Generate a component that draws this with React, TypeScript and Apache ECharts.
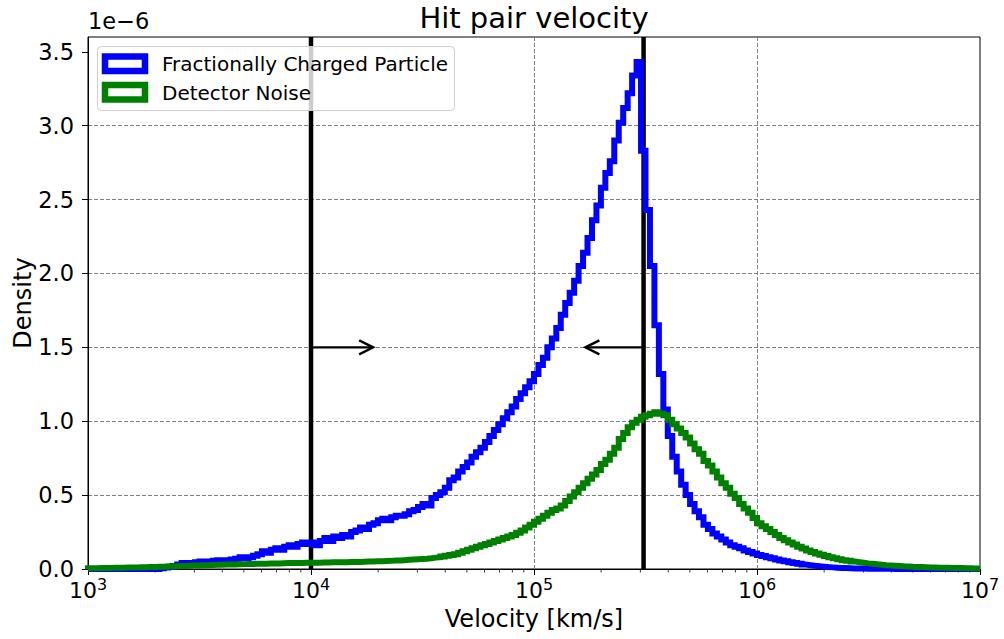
import React, { useEffect, useRef } from 'react';
import * as echarts from 'echarts';

const TITLE = 'Hit pair velocity';
const X_NAME = 'Velocity [km/s]';
const Y_NAME = 'Density';
const Y_OFFSET_TEXT = '1e\u22126';
const SERIES_NAMES = ['Fractionally Charged Particle', 'Detector Noise'];
const SERIES_COLORS = ['#0000ff', '#008000'];

const LOG_MIN = 3;
const LOG_MAX = 7;
const N_BINS = 200;
const X_MIN = 1e3;
const X_MAX = 1e7;
const Y_MIN = 0;
const Y_MAX = 3.6;
const Y_TICKS = [0, 0.5, 1.0, 1.5, 2.0, 2.5, 3.0, 3.5];

// densities in units of 1e-6, one per log-spaced bin
const BLUE = [
  0, 0, 0, 0, 0, 0, 0, 0, 0, 0,
  0, 0, 0, 0, 0, 0, 0.005, 0.01, 0.015, 0.02,
  0.03, 0.04, 0.035, 0.04, 0.045, 0.05, 0.045, 0.05, 0.055, 0.06,
  0.055, 0.06, 0.065, 0.07, 0.08, 0.075, 0.08, 0.09, 0.10, 0.12,
  0.11, 0.13, 0.14, 0.13, 0.15, 0.16, 0.15, 0.17, 0.18, 0.17,
  0.18, 0.16, 0.19, 0.21, 0.19, 0.22, 0.21, 0.23, 0.22, 0.25,
  0.26, 0.28, 0.27, 0.30, 0.31, 0.33, 0.34, 0.33, 0.35, 0.36,
  0.36, 0.37, 0.39, 0.40, 0.42, 0.44, 0.43, 0.48, 0.50, 0.52,
  0.55, 0.60, 0.62, 0.66, 0.69, 0.72, 0.76, 0.79, 0.82, 0.86,
  0.90, 0.94, 0.98, 1.02, 1.06, 1.10, 1.15, 1.19, 1.23, 1.27,
  1.32, 1.38, 1.43, 1.50, 1.56, 1.63, 1.72, 1.80, 1.87, 1.95,
  2.05, 2.14, 2.24, 2.36, 2.46, 2.58, 2.68, 2.76, 2.90, 3.02,
  3.12, 3.22, 3.34, 3.43, 2.83, 2.43, 2.05, 1.65, 1.32, 1.08,
  0.90, 0.76, 0.66, 0.57, 0.50, 0.44, 0.39, 0.35, 0.30, 0.27,
  0.24, 0.22, 0.20, 0.18, 0.16, 0.15, 0.14, 0.125, 0.115, 0.105,
  0.095, 0.088, 0.08, 0.072, 0.065, 0.058, 0.052, 0.046, 0.04, 0.035,
  0.03, 0.026, 0.022, 0.019, 0.016, 0.013, 0.011, 0.009, 0.007, 0.006,
  0.005, 0.004, 0.003, 0.003, 0.002, 0.002, 0.001, 0.001, 0.001, 0.001,
  0, 0, 0, 0, 0, 0, 0, 0, 0, 0,
  0, 0, 0, 0, 0, 0, 0, 0, 0, 0,
];

const GREEN = [
  0.005, 0.005, 0.006, 0.006, 0.007, 0.008, 0.008, 0.009, 0.01, 0.01,
  0.011, 0.012, 0.012, 0.013, 0.014, 0.015, 0.016, 0.017, 0.018, 0.019,
  0.02, 0.021, 0.022, 0.023, 0.024, 0.025, 0.026, 0.027, 0.028, 0.029,
  0.03, 0.031, 0.031, 0.032, 0.033, 0.034, 0.034, 0.035, 0.036, 0.036,
  0.037, 0.038, 0.038, 0.039, 0.04, 0.04, 0.041, 0.041, 0.042, 0.042,
  0.043, 0.043, 0.044, 0.044, 0.045, 0.045, 0.046, 0.046, 0.047, 0.048,
  0.048, 0.049, 0.05, 0.051, 0.052, 0.053, 0.054, 0.055, 0.057, 0.058,
  0.06, 0.062, 0.064, 0.066, 0.068, 0.07, 0.073, 0.077, 0.08, 0.085,
  0.09, 0.095, 0.10, 0.11, 0.12, 0.13, 0.14, 0.15, 0.16, 0.17,
  0.18, 0.19, 0.20, 0.21, 0.22, 0.23, 0.245, 0.26, 0.28, 0.30,
  0.32, 0.34, 0.36, 0.38, 0.40, 0.41, 0.43, 0.46, 0.49, 0.52,
  0.55, 0.58, 0.61, 0.64, 0.67, 0.71, 0.74, 0.78, 0.82, 0.88,
  0.92, 0.96, 0.99, 1.01, 1.03, 1.04, 1.05, 1.06, 1.05, 1.04,
  1.01, 0.98, 0.95, 0.92, 0.89, 0.85, 0.81, 0.78, 0.73, 0.70,
  0.66, 0.62, 0.58, 0.55, 0.51, 0.48, 0.44, 0.41, 0.38, 0.345,
  0.31, 0.29, 0.27, 0.25, 0.23, 0.21, 0.195, 0.18, 0.165, 0.15,
  0.138, 0.126, 0.115, 0.105, 0.096, 0.088, 0.08, 0.073, 0.066, 0.06,
  0.055, 0.05, 0.046, 0.042, 0.038, 0.035, 0.032, 0.029, 0.026, 0.024,
  0.022, 0.02, 0.018, 0.017, 0.015, 0.014, 0.013, 0.012, 0.011, 0.01,
  0.009, 0.008, 0.008, 0.007, 0.006, 0.006, 0.005, 0.005, 0.004, 0.004,
];

const VLINES = [1e4, 3.1e5];
// [start x, tip x, y]
const ARROWS = [
  [1e4, 1.9e4, 1.5],
  [3.1e5, 1.7e5, 1.5],
];
const MINOR_MULTIPLIERS = [2, 3, 4, 5, 6, 7, 8, 9];
const MINOR_DECADES = [3, 4, 5, 6];

const FONT = 'DejaVu Sans';

const edges = Array.from({ length: N_BINS + 1 }, (_, i) =>
  Math.pow(10, LOG_MIN + ((LOG_MAX - LOG_MIN) * i) / N_BINS)
);

function stepData(vals: number[]) {
  const d: number[][] = [[edges[0], 0]];
  vals.forEach((v, i) => d.push([edges[i], v]));
  d.push([edges[N_BINS], vals[N_BINS - 1]]);
  d.push([edges[N_BINS], 0]);
  return d;
}

const minorTicks: number[][] = [];
MINOR_DECADES.forEach((dec) =>
  MINOR_MULTIPLIERS.forEach((m) => minorTicks.push([m * Math.pow(10, dec), 0]))
);

export default function App() {
  const ref = useRef<HTMLDivElement>(null);
  useEffect(() => {
    document.body.style.margin = '0';
    if (!ref.current) return;
    const chart = echarts.init(ref.current, undefined, { renderer: 'svg' });
    const gridLeft = 88;
    const gridRight = 24;
    const gridTop = 37;
    const gridBottom = 70;
    const plotCenter = gridLeft + (1004 - gridLeft - gridRight) / 2;
    const dashed = { color: '#808080', width: 1, type: [4, 2] as any };

    const option: any = {
      animation: false,
      backgroundColor: '#ffffff',
      grid: {
        left: gridLeft,
        right: gridRight,
        top: gridTop,
        bottom: gridBottom,
        containLabel: false,
        outerBoundsMode: 'none',
        show: true,
        borderColor: '#000',
        borderWidth: 1,
        backgroundColor: 'transparent',
      },
      xAxis: {
        type: 'log',
        logBase: 10,
        min: X_MIN,
        max: X_MAX,
        name: X_NAME,
        nameLocation: 'middle',
        nameGap: 38,
        nameMoveOverlap: false,
        nameTextStyle: { fontFamily: FONT, fontSize: 24, color: '#000' },
        axisLine: { show: true, lineStyle: { color: '#000', width: 1 } },
        axisTick: { show: true, length: 6, lineStyle: { color: '#000', width: 1 } },
        axisLabel: {
          margin: 7,
          color: '#000',
          formatter: (v: number) => `{b|10}{s|${Math.round(Math.log10(v))}}`,
          rich: {
            b: { fontFamily: FONT, fontSize: 22, color: '#000' },
            s: { fontFamily: FONT, fontSize: 16, color: '#000', padding: [0, 0, 12, 0] },
          },
        },
        splitLine: { show: true, showMinLine: false, showMaxLine: false, lineStyle: dashed },
      },
      yAxis: {
        type: 'value',
        min: Y_MIN,
        max: Y_MAX,
        interval: 0.5,
        name: Y_NAME,
        nameLocation: 'middle',
        nameGap: 53,
        nameMoveOverlap: false,
        nameTextStyle: { fontFamily: FONT, fontSize: 24, color: '#000' },
        axisLine: { show: true, lineStyle: { color: '#000', width: 1 } },
        axisTick: { show: true, length: 6, customValues: Y_TICKS, lineStyle: { color: '#000', width: 1 } },
        axisLabel: {
          margin: 14,
          customValues: Y_TICKS,
          fontFamily: FONT,
          fontSize: 22.5,
          color: '#000',
          formatter: (v: number) => v.toFixed(1),
        },
        splitLine: { show: true, showMinLine: false, showMaxLine: false, lineStyle: dashed },
      },
      series: [
        {
          name: SERIES_NAMES[0],
          type: 'line',
          step: 'end',
          data: stepData(BLUE),
          showSymbol: false,
          symbol: 'none',
          lineStyle: { color: SERIES_COLORS[0], width: 6, join: 'miter' },
          itemStyle: { color: SERIES_COLORS[0] },
          silent: true,
        },
        {
          name: SERIES_NAMES[1],
          type: 'line',
          step: 'end',
          data: stepData(GREEN),
          showSymbol: false,
          symbol: 'none',
          lineStyle: { color: SERIES_COLORS[1], width: 6, join: 'miter' },
          itemStyle: { color: SERIES_COLORS[1] },
          silent: true,
        },
        {
          type: 'custom',
          silent: true,
          data: VLINES.map((x) => [x, Y_MIN, Y_MAX]),
          encode: { x: 0, y: [1, 2] },
          renderItem: (params: any, api: any) => {
            const p0 = api.coord([api.value(0), api.value(1)]);
            const p1 = api.coord([api.value(0), api.value(2)]);
            return {
              type: 'line',
              shape: { x1: p0[0], y1: p0[1], x2: p1[0], y2: p1[1] },
              style: { stroke: '#000', lineWidth: 4.5 },
            };
          },
        },
        {
          type: 'custom',
          silent: true,
          data: ARROWS,
          encode: { x: [0, 1], y: 2 },
          renderItem: (params: any, api: any) => {
            const from = api.coord([api.value(0), api.value(2)]);
            const to = api.coord([api.value(1), api.value(2)]);
            const dir = Math.sign(to[0] - from[0]);
            return {
              type: 'group',
              children: [
                {
                  type: 'line',
                  shape: { x1: from[0], y1: from[1], x2: to[0], y2: to[1] },
                  style: { stroke: '#000', lineWidth: 2.4 },
                },
                {
                  type: 'polyline',
                  shape: {
                    points: [
                      [to[0] - dir * 14, to[1] - 7],
                      [to[0], to[1]],
                      [to[0] - dir * 14, to[1] + 7],
                    ],
                  },
                  style: { stroke: '#000', lineWidth: 2.4, fill: 'none' },
                },
              ],
            };
          },
        },
        {
          type: 'custom',
          silent: true,
          clip: false,
          data: minorTicks,
          encode: { x: 0, y: 1 },
          renderItem: (params: any, api: any) => {
            const p = api.coord([api.value(0), api.value(1)]);
            return {
              type: 'line',
              shape: { x1: p[0], y1: p[1], x2: p[0], y2: p[1] + 3.5 },
              style: { stroke: '#000', lineWidth: 0.8 },
            };
          },
        },
      ],
      graphic: [
        {
          type: 'text',
          x: plotCenter,
          y: 3,
          z: 100,
          style: {
            text: TITLE,
            fontFamily: FONT,
            fontSize: 29,
            fill: '#000',
            textAlign: 'center',
            textVerticalAlign: 'top',
          },
        },
        {
          type: 'text',
          x: gridLeft,
          y: 9,
          z: 100,
          style: {
            text: Y_OFFSET_TEXT,
            fontFamily: FONT,
            fontSize: 22.5,
            fill: '#000',
            textAlign: 'left',
            textVerticalAlign: 'top',
          },
        },
        {
          type: 'group',
          z: 100,
          children: [
            {
              type: 'rect',
              shape: { x: 97.5, y: 46.5, width: 357, height: 64, r: 4 },
              style: { fill: 'rgba(255,255,255,0.8)', stroke: '#d0d0d0', lineWidth: 1 },
              z: 100,
            },
            ...SERIES_NAMES.flatMap((name, i) => [
              {
                type: 'rect',
                shape: { x: 105, y: 56.5 + i * 28.5, width: 40, height: 14.5 },
                style: { fill: '#fff', stroke: SERIES_COLORS[i], lineWidth: 6.5 },
                z: 101,
              },
              {
                type: 'text',
                x: 162,
                y: 64 + i * 28.5,
                z: 101,
                style: {
                  text: name,
                  fontFamily: FONT,
                  fontSize: 20,
                  fill: '#000',
                  textAlign: 'left',
                  textVerticalAlign: 'middle',
                },
              },
            ]),
          ],
        },
      ],
    };
    chart.setOption(option);
    return () => chart.dispose();
  }, []);
  return <div ref={ref} style={{ width: 1004, height: 639 }} />;
}
